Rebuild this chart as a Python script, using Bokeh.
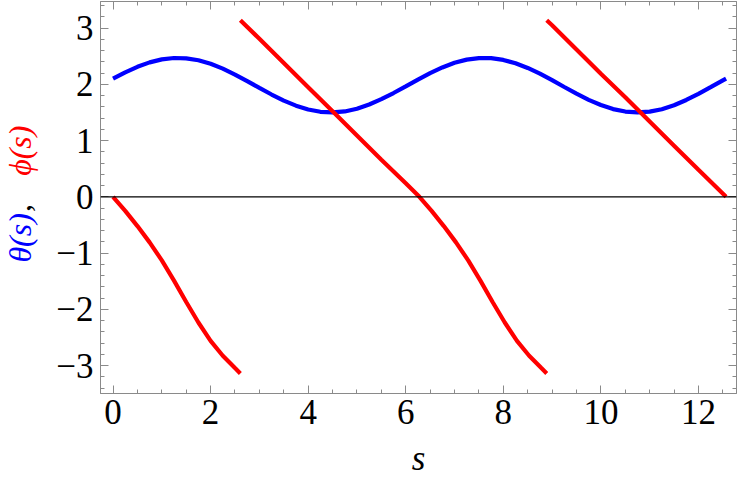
import math
from bokeh.plotting import figure
from bokeh.layouts import row
from bokeh.models import Range1d, FixedTicker, LinearAxis, Span, Label
from bokeh.embed import file_html
from bokeh.resources import INLINE

# ---- data ----
s_theta = [0.0, 0.25, 0.5, 0.75, 1.0, 1.25, 1.5, 1.75, 2.0, 2.25, 2.5, 2.75,
           3.0, 3.25, 3.5, 3.75, 4.0, 4.25, 4.5, 4.75, 5.0, 5.25, 5.5, 5.75,
           6.0, 6.25, 6.5, 6.75, 7.0, 7.25, 7.5, 7.75, 8.0, 8.25, 8.5, 8.75,
           9.0, 9.25, 9.5, 9.75, 10.0, 10.25, 10.5, 10.75, 11.0, 11.25, 11.5,
           11.75, 12.0, 12.25, 12.5, 12.566]
theta = [2.101, 2.214, 2.312, 2.391, 2.444, 2.468, 2.463, 2.428, 2.365, 2.279,
         2.174, 2.058, 1.937, 1.819, 1.711, 1.621, 1.553, 1.512, 1.500, 1.518,
         1.566, 1.641, 1.736, 1.846, 1.965, 2.085, 2.200, 2.301, 2.384, 2.440,
         2.467, 2.465, 2.434, 2.375, 2.292, 2.189, 2.074, 1.953, 1.834, 1.725,
         1.632, 1.560, 1.516, 1.500, 1.514, 1.558, 1.628, 1.722, 1.831, 1.949,
         2.069, 2.100]

s_phi_1 = [0.0, 0.25, 0.5, 0.75, 1.0, 1.25, 1.5, 1.75, 2.0, 2.25, 2.5, 2.61]
phi_1 = [0.0, -0.25, -0.52, -0.81, -1.13, -1.49, -1.87, -2.235, -2.56, -2.825,
         -3.045, -3.14]

s_phi_2 = [2.61, 3.0, 3.5, 4.0, 4.5, 5.0, 5.5, 6.0, 6.28, 6.53, 6.78, 7.03,
           7.28, 7.53, 7.78, 8.03, 8.28, 8.53, 8.78, 8.89]
phi_2 = [3.14, 2.81, 2.38, 1.95, 1.52, 1.09, 0.66, 0.24, 0.0, -0.25, -0.52, -0.81,
         -1.13, -1.49, -1.87, -2.235, -2.56, -2.825, -3.045, -3.14]

s_phi_3 = [8.89, 9.0, 9.5, 10.0, 10.5, 11.0, 11.5, 12.0, 12.566]
phi_3 = [3.14, 3.05, 2.62, 2.19, 1.77, 1.34, 0.91, 0.48, 0.0]

x_ticks = [0, 2, 4, 6, 8, 10, 12]
x_minor = [0.5, 1.0, 1.5, 2.5, 3.0, 3.5, 4.5, 5.0, 5.5, 6.5, 7.0, 7.5, 8.5, 9.0,
           9.5, 10.5, 11.0, 11.5, 12.5]
y_ticks = [-3, -2, -1, 0, 1, 2, 3]
y_tick_labels = ["\u22123", "\u22122", "\u22121", "0", "1", "2", "3"]
y_minor = [-3.4, -3.2, -2.8, -2.6, -2.4, -2.2, -1.8, -1.6, -1.4, -1.2, -0.8, -0.6,
           -0.4, -0.2, 0.2, 0.4, 0.6, 0.8, 1.2, 1.4, 1.6, 1.8, 2.2, 2.4, 2.6, 2.8,
           3.2, 3.4]

FRAME = "#8a8a8a"
FONT = "Liberation Serif, Times New Roman, serif"
FS = "35px"
FS_LAB = "32px"
H = 480
LAB_W = 44

yr = Range1d(-3.497, 3.473)
p = figure(width=739 - LAB_W, height=H,
           x_range=Range1d(-0.257, 12.78), y_range=yr,
           output_backend="svg", toolbar_location=None,
           min_border_left=100 - LAB_W, min_border_right=3, min_border_top=1,
           min_border_bottom=82)
p.xgrid.visible = False
p.ygrid.visible = False
p.outline_line_color = FRAME
p.background_fill_color = "white"
p.border_fill_color = "white"


def style_axis(ax, ticks, minor, labels=None, show=True):
    ax.ticker = FixedTicker(ticks=ticks, minor_ticks=minor)
    ax.major_tick_in = 8
    ax.major_tick_out = 0
    ax.minor_tick_in = 4
    ax.minor_tick_out = 0
    ax.axis_line_color = FRAME
    ax.major_tick_line_color = FRAME
    ax.minor_tick_line_color = FRAME
    if show:
        ax.major_label_text_font = FONT
        ax.major_label_text_font_size = FS
        ax.major_label_text_color = "black"
        if labels is not None:
            ax.major_label_overrides = {t: l for t, l in zip(ticks, labels)}
    else:
        ax.major_label_overrides = {t: "" for t in ticks}
        ax.major_label_text_font_size = "0px"
        ax.major_label_standoff = 0


style_axis(p.xaxis[0], x_ticks, x_minor)
p.xaxis[0].major_label_standoff = 6
p.xaxis[0].axis_label = "s"
p.xaxis[0].axis_label_text_font = FONT
p.xaxis[0].axis_label_text_font_style = "italic"
p.xaxis[0].axis_label_text_font_size = FS
p.xaxis[0].axis_label_text_color = "black"
p.xaxis[0].axis_label_standoff = 12

style_axis(p.yaxis[0], y_ticks, y_minor, y_tick_labels)
p.yaxis[0].major_label_standoff = 7

top = LinearAxis()
style_axis(top, x_ticks, x_minor, show=False)
p.add_layout(top, "above")
right = LinearAxis()
style_axis(right, y_ticks, y_minor, show=False)
p.add_layout(right, "right")

p.add_layout(Span(location=0, dimension="width", line_color="black", line_width=1.2))

p.line(s_theta, theta, line_color="#0000ff", line_width=4.2)
p.line(s_phi_1, phi_1, line_color="#ff0000", line_width=4.2)
p.line(s_phi_2, phi_2, line_color="#ff0000", line_width=4.2)
p.line(s_phi_3, phi_3, line_color="#ff0000", line_width=4.2)

# ---- y-axis title (multi-coloured), drawn in a narrow side figure that
#      shares the main plot's y range (so its frame lines up with the plot) ----
lab = figure(width=LAB_W, height=H, x_range=Range1d(0, LAB_W), y_range=yr,
             output_backend="svg", toolbar_location=None, min_border=0,
             min_border_top=1, min_border_bottom=82,
             x_axis_type=None, y_axis_type=None)
lab.outline_line_color = None
lab.grid.visible = False
lab.background_fill_color = "white"
lab.border_fill_color = "white"

common = dict(angle=math.pi / 2, text_font=FONT, text_font_size=FS_LAB,
              text_baseline="middle", text_align="center")
lab.add_layout(Label(x=19, y=-0.73, text="\u03b8(s)", text_color="#0000ff",
                     text_font_style="italic", **common))
lab.add_layout(Label(x=19, y=-0.20, text=",", text_color="black", **common))
lab.add_layout(Label(x=19, y=0.82, text="\u03d5(s)", text_color="#ff0000",
                     text_font_style="italic", **common))

layout = row(lab, p)
open("out.html", "w").write(file_html(layout, INLINE))
